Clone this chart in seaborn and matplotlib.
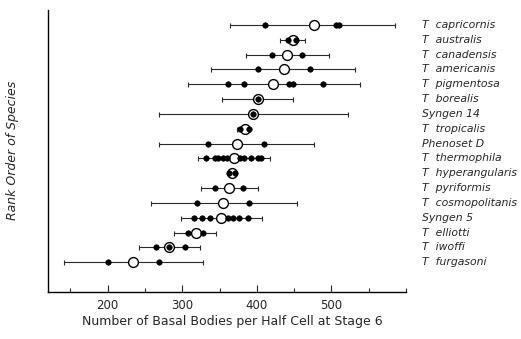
import matplotlib
matplotlib.use("Agg")
import matplotlib.pyplot as plt
import seaborn as sns
import pandas as pd
import numpy as np

species = ["T  capricornis", "T  australis", "T  canadensis", "T  americanis",
           "T  pigmentosa", "T  borealis", "Syngen 14", "T  tropicalis",
           "Phenoset D", "T  thermophila", "T  hyperangularis", "T  pyriformis",
           "T  cosmopolitanis", "Syngen 5", "T  elliotti", "T  iwoffi", "T  furgasoni"]
means = [476, 448, 441, 436, 422, 402, 395, 384, 374, 370, 367, 363, 355, 352, 318, 282, 234]
lows = [364, 431, 386, 339, 308, 353, 269, 373, 269, 321, 362, 325, 258, 298, 289, 242, 141]
highs = [585, 465, 497, 532, 538, 449, 522, 391, 476, 417, 372, 401, 454, 407, 345, 324, 328]
strains = [
    [411, 506, 510],
    [442, 452],
    [421, 461],
    [402, 471],
    [361, 383, 443, 449, 489],
    [402],
    [395],
    [378, 389],
    [335, 409],
    [332, 344, 348, 355, 360, 378, 383, 392, 402, 406],
    [363, 371],
    [344, 382],
    [320, 390],
    [316, 327, 337, 361, 368, 376, 388],
    [308, 328],
    [265, 282, 304],
    [200, 269],
]

sns.set_style("white")
plt.rcParams['font.family'] = ['DejaVu Sans']

fig = plt.figure(figsize=(5.21, 3.39), dpi=100)
ax = fig.add_axes([48/521, 1-292/339, (406-48)/521, (292-10)/339])

rank = np.arange(len(species))
mean_df = pd.DataFrame({"rank": rank, "mean": means})
strain_df = pd.DataFrame({
    "rank": [i for i, s in enumerate(strains) for _ in s],
    "value": [v for s in strains for v in s],
})

# ranges
ax.errorbar(x=means, y=rank,
            xerr=[np.array(means) - np.array(lows), np.array(highs) - np.array(means)],
            fmt="none", ecolor="#2a2a2a", elinewidth=0.8, capsize=1.8, capthick=0.8, zorder=1)

sns.scatterplot(data=mean_df, x="mean", y="rank", ax=ax, s=50, marker="o",
                facecolor="white", edgecolor="black", linewidth=1.0, zorder=2, legend=False)
sns.scatterplot(data=strain_df, x="value", y="rank", ax=ax, s=16, marker="o",
                color="black", edgecolor="black", linewidth=0.4, zorder=3, legend=False)

ax.set_xlim(120, 600)
ax.set_ylim(18, -1)
ax.set_yticks([])
ax.set_xticks([200, 300, 400, 500])
ax.set_xticks([150, 250, 350, 450, 550, 600], minor=True)
ax.tick_params(axis="x", which="major", direction="in", length=5, width=0.8,
               labelsize=8.5, pad=5, bottom=True)
ax.tick_params(axis="x", which="minor", direction="in", length=3, width=0.8, bottom=True)
for side in ["top", "right"]:
    ax.spines[side].set_visible(False)
for side in ["left", "bottom"]:
    ax.spines[side].set_color("black")
    ax.spines[side].set_linewidth(1.0)

for i, name in enumerate(species):
    ax.text(1.045, i, name, transform=ax.get_yaxis_transform(), fontsize=7.8,
            style="italic", va="center", ha="left")

ax.set_xlabel("")
ax.set_ylabel("")
fig.text(232/521, 1-322/339, "Number of Basal Bodies per Half Cell at Stage 6",
         fontsize=9, ha="center", va="center")
fig.text(13/521, 1-150/339, "Rank Order of Species", rotation=90, fontsize=9,
         style="italic", ha="center", va="center")

fig.savefig("out.png", dpi=100)
